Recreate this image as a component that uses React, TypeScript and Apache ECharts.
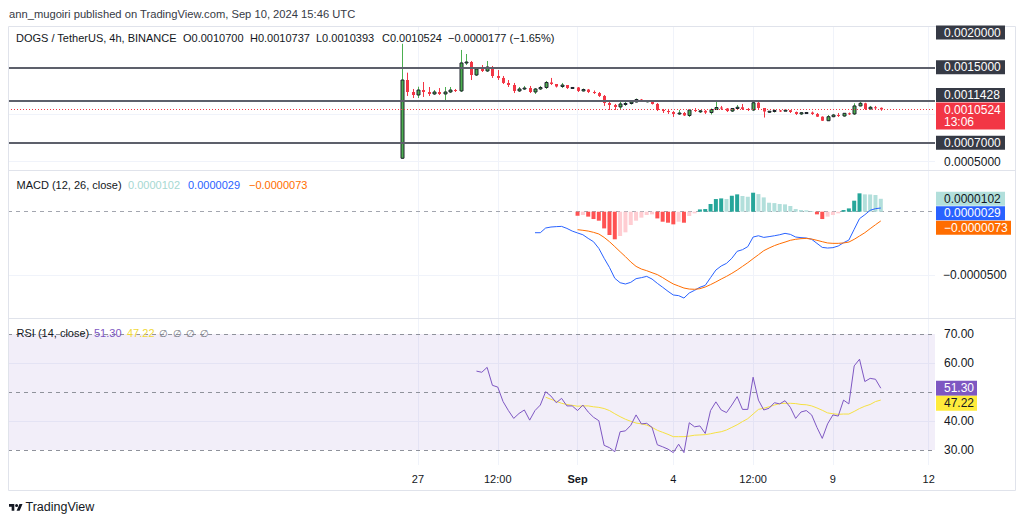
import React, { useEffect, useRef } from 'react';
import * as echarts from 'echarts';

const FONT = '"Liberation Sans", Arial, Helvetica, sans-serif';

// ---- price candles: [open, close, low, high], one per 4h bar starting Aug 26 12:00 ----
const candles: number[][] = [
  [0.000535, 0.001365, 0.000530, 0.001750],
  [0.001365, 0.001238, 0.001196, 0.001443],
  [0.001238, 0.001206, 0.001174, 0.001270],
  [0.001206, 0.001259, 0.001174, 0.001294],
  [0.001259, 0.001238, 0.001185, 0.001344],
  [0.001238, 0.001217, 0.001196, 0.001291],
  [0.001217, 0.001238, 0.001206, 0.001259],
  [0.001238, 0.001217, 0.001206, 0.001280],
  [0.001217, 0.001238, 0.001153, 0.001291],
  [0.001238, 0.001259, 0.001227, 0.001291],
  [0.001259, 0.001249, 0.001238, 0.001270],
  [0.001249, 0.001546, 0.001238, 0.001684],
  [0.001546, 0.001556, 0.001524, 0.001641],
  [0.001556, 0.001418, 0.001365, 0.001567],
  [0.001418, 0.001482, 0.001408, 0.001503],
  [0.001482, 0.001461, 0.001450, 0.001524],
  [0.001461, 0.001503, 0.001450, 0.001567],
  [0.001503, 0.001408, 0.001387, 0.001514],
  [0.001408, 0.001387, 0.001365, 0.001471],
  [0.001387, 0.001334, 0.001323, 0.001408],
  [0.001334, 0.001312, 0.001291, 0.001365],
  [0.001312, 0.001249, 0.001227, 0.001334],
  [0.001249, 0.001270, 0.001238, 0.001291],
  [0.001270, 0.001280, 0.001259, 0.001302],
  [0.001280, 0.001238, 0.001227, 0.001302],
  [0.001238, 0.001270, 0.001217, 0.001280],
  [0.001270, 0.001286, 0.001259, 0.001302],
  [0.001286, 0.001339, 0.001270, 0.001355],
  [0.001339, 0.001323, 0.001312, 0.001387],
  [0.001323, 0.001296, 0.001286, 0.001323],
  [0.001296, 0.001312, 0.001280, 0.001334],
  [0.001312, 0.001280, 0.001270, 0.001312],
  [0.001280, 0.001286, 0.001275, 0.001291],
  [0.001286, 0.001249, 0.001238, 0.001291],
  [0.001249, 0.001264, 0.001243, 0.001275],
  [0.001264, 0.001238, 0.001227, 0.001270],
  [0.001238, 0.001227, 0.001217, 0.001254],
  [0.001227, 0.001196, 0.001185, 0.001238],
  [0.001196, 0.001121, 0.001090, 0.001206],
  [0.001121, 0.001100, 0.001047, 0.001132],
  [0.001100, 0.001079, 0.001047, 0.001111],
  [0.001079, 0.001111, 0.001047, 0.001146],
  [0.001111, 0.001116, 0.001090, 0.001143],
  [0.001116, 0.001132, 0.001105, 0.001143],
  [0.001132, 0.001158, 0.001127, 0.001169],
  [0.001158, 0.001143, 0.001132, 0.001164],
  [0.001143, 0.001145, 0.001127, 0.001153],
  [0.001145, 0.001111, 0.001105, 0.001148],
  [0.001111, 0.001047, 0.001036, 0.001121],
  [0.001047, 0.001036, 0.001015, 0.001058],
  [0.001036, 0.001026, 0.001005, 0.001058],
  [0.001026, 0.001005, 0.000973, 0.001036],
  [0.001005, 0.001015, 0.000994, 0.001047],
  [0.001015, 0.000989, 0.000983, 0.001026],
  [0.000989, 0.001047, 0.000973, 0.001052],
  [0.001047, 0.001036, 0.001026, 0.001068],
  [0.001036, 0.001038, 0.001015, 0.001047],
  [0.001038, 0.001020, 0.001005, 0.001047],
  [0.001020, 0.001052, 0.000999, 0.001063],
  [0.001052, 0.001073, 0.001047, 0.001148],
  [0.001073, 0.001063, 0.001047, 0.001090],
  [0.001063, 0.001036, 0.001026, 0.001068],
  [0.001036, 0.001063, 0.001026, 0.001068],
  [0.001063, 0.001076, 0.001052, 0.001100],
  [0.001076, 0.001058, 0.001047, 0.001111],
  [0.001058, 0.001047, 0.001036, 0.001068],
  [0.001047, 0.001124, 0.001036, 0.001132],
  [0.001124, 0.001068, 0.001052, 0.001137],
  [0.001068, 0.001031, 0.000967, 0.001068],
  [0.001031, 0.001034, 0.001015, 0.001036],
  [0.001034, 0.001042, 0.001020, 0.001052],
  [0.001042, 0.001040, 0.001026, 0.001047],
  [0.001040, 0.001045, 0.001036, 0.001052],
  [0.001045, 0.001026, 0.001015, 0.001047],
  [0.001026, 0.001005, 0.000994, 0.001031],
  [0.001005, 0.001018, 0.000994, 0.001026],
  [0.001018, 0.001020, 0.001010, 0.001026],
  [0.001020, 0.001005, 0.000994, 0.001031],
  [0.001005, 0.000976, 0.000973, 0.001015],
  [0.000976, 0.000933, 0.000930, 0.000980],
  [0.000933, 0.000976, 0.000930, 0.000994],
  [0.000976, 0.000994, 0.000970, 0.001005],
  [0.000994, 0.000983, 0.000973, 0.001015],
  [0.000983, 0.001012, 0.000976, 0.001015],
  [0.001012, 0.001005, 0.000994, 0.001020],
  [0.001005, 0.001090, 0.000994, 0.001118],
  [0.001090, 0.001118, 0.001085, 0.001132],
  [0.001118, 0.001058, 0.001047, 0.001124],
  [0.001058, 0.001076, 0.001052, 0.001090],
  [0.001076, 0.001070, 0.001058, 0.001090],
  [0.0010700, 0.0010524, 0.0010393, 0.0010737],
];

// ---- MACD (12, 26, close) ----
const macdStart = 25;
const macdLine = [
  -0.0000166, -0.0000166, -0.0000129, -0.0000121, -0.0000118,
  -0.0000116, -0.0000132, -0.0000153, -0.0000168, -0.0000182,
  -0.0000211, -0.0000237, -0.0000290, -0.0000368, -0.0000440,
  -0.0000526, -0.0000561, -0.0000571, -0.0000558, -0.0000529,
  -0.0000521, -0.0000511, -0.0000532, -0.0000566, -0.0000597,
  -0.0000629, -0.0000658, -0.0000663, -0.0000682, -0.0000642,
  -0.0000621, -0.0000597, -0.0000582, -0.0000521, -0.0000461,
  -0.0000429, -0.0000408, -0.0000368, -0.0000313, -0.0000300,
  -0.0000276, -0.0000200, -0.0000190, -0.0000203, -0.0000197,
  -0.0000190, -0.0000182, -0.0000171, -0.0000179, -0.0000200,
  -0.0000205, -0.0000208, -0.0000218, -0.0000250, -0.0000282,
  -0.0000287, -0.0000284, -0.0000271, -0.0000245, -0.0000224,
  -0.0000139, -0.0000055, -0.0000024, 0.0000011, 0.0000024,
  0.0000029,
];
const signalStart = 33;
const signalLine = [
  -0.0000142, -0.0000147, -0.0000153, -0.0000163, -0.0000176,
  -0.0000203, -0.0000237, -0.0000276, -0.0000316, -0.0000355,
  -0.0000397, -0.0000432, -0.0000453, -0.0000466, -0.0000482,
  -0.0000497, -0.0000521, -0.0000547, -0.0000571, -0.0000587,
  -0.0000603, -0.0000611, -0.0000613, -0.0000608, -0.0000595,
  -0.0000576, -0.0000555, -0.0000532, -0.0000511, -0.0000487,
  -0.0000461, -0.0000432, -0.0000403, -0.0000371, -0.0000340,
  -0.0000308, -0.0000287, -0.0000268, -0.0000253, -0.0000240,
  -0.0000226, -0.0000218, -0.0000213, -0.0000211, -0.0000216,
  -0.0000226, -0.0000237, -0.0000247, -0.0000250, -0.0000250,
  -0.0000247, -0.0000240, -0.0000218, -0.0000192, -0.0000166,
  -0.0000134, -0.0000103, -0.0000073,
];
const histStart = 33;
const histogram = [
  -0.0000032, -0.0000026, -0.0000039, -0.0000058, -0.0000071,
  -0.0000132, -0.0000184, -0.0000218, -0.0000192, -0.0000163,
  -0.0000105, -0.0000071, -0.0000047, -0.0000026, -0.0000021,
  -0.0000053, -0.0000079, -0.0000087, -0.0000100, -0.0000079,
  -0.0000087, -0.0000034, -0.0000013, 0.0000018, 0.0000021,
  0.0000061, 0.0000100, 0.0000105, 0.0000100, 0.0000126,
  0.0000137, 0.0000124, 0.0000118, 0.0000150, 0.0000139,
  0.0000113, 0.0000071, 0.0000068, 0.0000061, 0.0000058,
  0.0000045, 0.0000021, 0.0000013, 0.0000011, 0.0000005,
  -0.0000021, -0.0000058, -0.0000039, -0.0000026, -0.0000013,
  0.0000013, 0.0000026, 0.0000087, 0.0000145, 0.0000137,
  0.0000136, 0.0000132, 0.0000102,
];

// ---- RSI (14, close) and its moving average ----
const rsiStart = 14;
const rsiValues = [
  57.2, 56.8, 58.5, 52.3, 51.7,
  46.7, 43.6, 40.9, 42.6, 43.8,
  40.3, 43.6, 45.5, 50.1, 48.6,
  46.3, 47.8, 45.2, 45.2, 43.6,
  45.5, 43.1, 41.3, 40.1, 31.6,
  30.8, 29.4, 36.3, 36.6, 38.5,
  42.1, 39.0, 39.2, 37.8, 31.8,
  31.1, 30.3, 29.1, 32.0, 29.1,
  39.4, 38.0, 38.3, 35.7, 43.6,
  46.6, 43.8, 42.9, 45.5, 48.4,
  44.0, 44.0, 55.1, 47.2, 43.8,
  44.4, 46.3, 45.9, 47.0, 44.7,
  40.9, 43.1, 43.6, 42.1, 37.8,
  34.0, 39.0, 42.1, 41.7, 47.2,
  45.9, 59.0, 61.3, 53.6, 54.7,
  54.4, 51.3,
];
const rsiMaStart = 27;
const rsiMaValues = [
  48.2, 47.5, 46.8, 46.1, 45.7,
  45.4, 45.1, 45.2, 45.2, 44.9,
  44.7, 44.3, 43.6, 42.5, 41.5,
  40.6, 39.9, 39.3, 39.0, 38.6,
  37.8, 36.8, 36.1, 35.4, 34.6,
  34.6, 34.6, 34.8, 35.1, 35.2,
  35.3, 35.6, 36.0, 36.3, 36.9,
  37.8, 38.7, 39.8, 40.8, 42.4,
  44.0, 44.4, 44.9, 45.5, 46.0,
  46.1, 46.1, 46.0, 45.7, 45.6,
  45.2, 44.5, 43.7, 42.8, 42.5,
  42.3, 42.4, 42.4, 43.3, 44.3,
  45.1, 45.7, 46.7, 47.22,
];

// ---- time axis ticks (bar index -> label) ----
const timeTicks = [
  { i: 3, label: '27', bold: false },
  { i: 18, label: '12:00', bold: false },
  { i: 33, label: 'Sep', bold: true },
  { i: 51, label: '4', bold: false },
  { i: 66, label: '12:00', bold: false },
  { i: 81, label: '9', bold: false },
  { i: 99, label: '12', bold: false },
];

const drawnLevels = [0.0015, 0.0011428, 0.0007];
const priceGridLevels = [0.0005, 0.001];
const lastClose = 0.0010524;
const macdGridLevels = [-0.00005];
const rsiLower = 30, rsiMiddle = 50, rsiUpper = 70;
const rsiGridLevels = [40, 60];

const priceTickLabels = [{ v: 0.0005, t: '0.0005000' }];
const macdTickLabels = [{ v: -0.00005, t: '\u22120.0000500' }];
const rsiTickLabels = [
  { v: 70, t: '70.00' }, { v: 60, t: '60.00' }, { v: 40, t: '40.00' }, { v: 30, t: '30.00' },
];

// visible bar-index window
const X_MIN = -74.06;
const X_MAX = 100.19;

const at = (start: number, arr: number[]) => arr.map((v, k) => [start + k, v]);

function buildOption(): any {
  const axisX = (g: number) => ({ type: 'value', gridIndex: g, min: X_MIN, max: X_MAX, show: false });
  const vlines = (color: string) => timeTicks.map(t => ({ xAxis: t.i, lineStyle: { color, width: 1, type: 'solid' } }));
  const hline = (v: number, color: string, width = 1, type: any = 'solid') => ({ yAxis: v, lineStyle: { color, width, type } });
  const mark = (data: any[], z: number) => ({
    silent: true, symbol: ['none', 'none'], label: { show: false }, animation: false, precision: 12, z, data,
  });
  const closes = at(0, candles.map(c => c[1]));
  const hidden = { symbol: 'none', showSymbol: false, lineStyle: { opacity: 0 }, silent: true };

  const histData = histogram.map((v, k) => {
    const prev = k > 0 ? histogram[k - 1] : 0;
    const color = v >= 0 ? (v > prev ? '#26a69a' : '#b2dfdb') : (v < prev ? '#ff5252' : '#ffcdd2');
    return { value: [histStart + k, v], itemStyle: { color } };
  });

  return {
    animation: false,
    backgroundColor: '#ffffff',
    grid: [
      { left: 8, top: 26, width: 927, height: 144, outerBoundsMode: 'none' },
      { left: 8, top: 171, width: 927, height: 147, outerBoundsMode: 'none' },
      { left: 8, top: 319, width: 927, height: 146, outerBoundsMode: 'none' },
    ],
    xAxis: [axisX(0), axisX(1), axisX(2)],
    yAxis: [
      { type: 'value', gridIndex: 0, min: 0.0004104, max: 0.0019382, show: false },
      { type: 'value', gridIndex: 1, min: -0.00008397, max: 0.00003215, show: false },
      { type: 'value', gridIndex: 2, min: 24.83, max: 75.17, show: false },
    ],
    series: [
      {
        type: 'line', xAxisIndex: 0, yAxisIndex: 0, data: closes, ...hidden, z: 1,
        markLine: mark([...vlines('#f0f3fa'), ...priceGridLevels.map(v => hline(v, '#f0f3fa'))], 1),
      },
      {
        type: 'custom', xAxisIndex: 0, yAxisIndex: 0, z: 3, clip: true, silent: true,
        data: candles.map((c, i) => [i, c[0], c[1], c[2], c[3]]),
        encode: { x: 0, y: [1, 2, 3, 4] },
        renderItem: (_p: any, api: any) => {
          const i = api.value(0);
          const o = api.value(1), c = api.value(2), l = api.value(3), h = api.value(4);
          const po = api.coord([i, o]);
          const x = Math.round(po[0]) + 0.5;
          const yo = po[1];
          const yc = api.coord([i, c])[1];
          const yl = api.coord([i, l])[1];
          const yh = api.coord([i, h])[1];
          const up = c >= o;
          const col = up ? '#4caf50' : '#f23645';
          const top = Math.min(yo, yc);
          const hgt = Math.max(Math.abs(yo - yc), 1);
          return {
            type: 'group',
            children: [
              { type: 'line', shape: { x1: x, y1: yh, x2: x, y2: yl }, style: { stroke: col, lineWidth: 1 } },
              up
                ? { type: 'rect', shape: { x: x - 1.5, y: top, width: 3, height: hgt }, style: { fill: col, stroke: '#1e222d', lineWidth: 1 } }
                : { type: 'rect', shape: { x: x - 1.5, y: top, width: 3, height: hgt }, style: { fill: col } },
            ],
          };
        },
      },
      {
        type: 'line', xAxisIndex: 0, yAxisIndex: 0, data: closes, ...hidden, z: 5,
        markLine: mark([
          ...drawnLevels.map(v => hline(v, '#5d606b', 2)),
          hline(lastClose, '#f23645', 1, [1, 2]),
        ], 6),
      },
      {
        type: 'line', xAxisIndex: 1, yAxisIndex: 1, data: at(macdStart, macdLine), ...hidden, z: 1,
        markLine: mark([
          ...vlines('#f0f3fa'),
          ...macdGridLevels.map(v => hline(v, '#f0f3fa')),
          hline(0, '#a3a6af', 1, [4, 4]),
        ], 1),
      },
      {
        type: 'bar', xAxisIndex: 1, yAxisIndex: 1, data: histData, barWidth: 4, z: 2, silent: true,
      },
      {
        type: 'line', xAxisIndex: 1, yAxisIndex: 1, data: at(macdStart, macdLine), symbol: 'none', showSymbol: false,
        lineStyle: { color: '#2962ff', width: 1 }, z: 4, silent: true,
      },
      {
        type: 'line', xAxisIndex: 1, yAxisIndex: 1, data: at(signalStart, signalLine), symbol: 'none', showSymbol: false,
        lineStyle: { color: '#ff6d00', width: 1 }, z: 4, silent: true,
      },
      {
        type: 'line', xAxisIndex: 2, yAxisIndex: 2, data: at(rsiStart, rsiValues), ...hidden, z: 1,
        markLine: mark([...vlines('#f0f3fa'), ...rsiGridLevels.map(v => hline(v, '#f0f3fa'))], 1),
      },
      {
        type: 'line', xAxisIndex: 2, yAxisIndex: 2, data: at(rsiStart, rsiValues), ...hidden, z: 2,
        markArea: {
          silent: true, z: 2, itemStyle: { color: 'rgba(126, 87, 194, 0.1)' },
          data: [[{ yAxis: rsiLower }, { yAxis: rsiUpper }]],
        },
        markLine: mark([
          hline(rsiUpper, '#8f929b', 1, [4, 4]),
          hline(rsiMiddle, '#8f929b', 1, [4, 4]),
          hline(rsiLower, '#8f929b', 1, [4, 4]),
        ], 3),
      },
      {
        type: 'line', xAxisIndex: 2, yAxisIndex: 2, data: at(rsiMaStart, rsiMaValues), symbol: 'none', showSymbol: false,
        lineStyle: { color: '#f5e042', width: 1 }, z: 4, silent: true,
      },
      {
        type: 'line', xAxisIndex: 2, yAxisIndex: 2, data: at(rsiStart, rsiValues), symbol: 'none', showSymbol: false,
        lineStyle: { color: '#7e57c2', width: 1 }, z: 4, silent: true,
      },
    ],
  };
}

function buildGraphics(gX: (a: number, v: number) => number, gY: (a: number, v: number) => number) {
  const els: any[] = [];
  const T = (x: number, y: number, text: string, color = '#131722', size = 11, extra: any = {}) =>
    els.push({
      type: 'text', x, y, z: 100, silent: true,
      style: {
        text, fill: color, fontSize: size, fontFamily: FONT,
        verticalAlign: 'middle', textVerticalAlign: 'middle', ...extra,
      },
    });
  const R = (x: number, y: number, w: number, h: number, fill: string) =>
    els.push({ type: 'rect', z: 99, silent: true, shape: { x, y, width: w, height: h }, style: { fill } });
  const L = (x1: number, y1: number, x2: number, y2: number, stroke: string) =>
    els.push({ type: 'line', z: 50, silent: true, shape: { x1, y1, x2, y2 }, style: { stroke, lineWidth: 1 } });

  // frame & pane separators
  els.push({
    type: 'rect', z: 50, silent: true, shape: { x: 8.5, y: 26.5, width: 1007, height: 464 },
    style: { fill: 'none', stroke: '#e0e3eb', lineWidth: 1 },
  });
  L(8, 170.5, 1016, 170.5, '#e0e3eb');
  L(8, 318.5, 1016, 318.5, '#e0e3eb');

  // header
  T(9, 14, 'ann_mugoiri published on TradingView.com, Sep 10, 2024 15:46 UTC', '#363a45', 11.2);

  // price legend
  T(16, 38, 'DOGS / TetherUS, 4h, BINANCE');
  T(183, 38, 'O0.0010700');
  T(250, 38, 'H0.0010737');
  T(316, 38, 'L0.0010393');
  T(382, 38, 'C0.0010524');
  T(448, 38, '\u22120.0000177 (\u22121.65%)');

  // MACD legend
  T(16.5, 185, 'MACD (12, 26, close)');
  T(128, 185, '0.0000102', '#a6d8d2');
  T(188, 185, '0.0000029', '#2962ff');
  T(249, 185, '\u22120.0000073', '#ff6d00');

  // RSI legend
  T(16.5, 333, 'RSI (14, close)');
  T(94, 333, '51.30', '#7e57c2');
  T(127, 333, '47.22', '#f0d93a');
  [163, 177, 190, 204].forEach(x => T(x, 333, '\u2205', '#787b86', 10, { align: 'center', textAlign: 'center' }));

  // price scale
  const ax = 944;
  priceTickLabels.forEach(p => T(ax, gY(0, p.v), p.t, '#131722', 12));
  const yClose = gY(0, lastClose);
  const redTop = yClose - 7;
  const darkBadge = (y: number, text: string) => { R(936, y - 7, 69, 14, '#363a45'); T(ax, y, text, '#ffffff', 12); };
  darkBadge(Math.max(gY(0, 0.002), 26 + 6.5), '0.0020000');
  darkBadge(gY(0, 0.0015), '0.0015000');
  darkBadge(Math.min(gY(0, 0.0011428), redTop - 7.5), '0.0011428');
  darkBadge(gY(0, 0.0007), '0.0007000');
  R(936, redTop, 69, 27, '#f23645');
  T(ax, redTop + 7.5, '0.0010524', '#ffffff', 12);
  T(ax, redTop + 19.5, '13:06', '#ffffff', 12);

  // MACD scale
  macdTickLabels.forEach(p => T(943, gY(1, p.v), p.t, '#131722', 12));
  const mb = [
    { v: histogram[histogram.length - 1], t: '0.0000102', bg: '#b2dfdb', c: '#131722', w: 69 },
    { v: macdLine[macdLine.length - 1], t: '0.0000029', bg: '#2962ff', c: '#ffffff', w: 69 },
    { v: signalLine[signalLine.length - 1], t: '\u22120.0000073', bg: '#ff6d00', c: '#ffffff', w: 75 },
  ];
  let prevY = -1e9;
  mb.forEach(b => {
    const y = Math.max(gY(1, b.v), prevY + 14.5);
    prevY = y;
    R(936, y - 7, b.w, 14, b.bg);
    T(ax, y, b.t, b.c, 12);
  });

  // RSI scale
  rsiTickLabels.forEach(p => T(ax, gY(2, p.v), p.t, '#131722', 12));
  const rb = [
    { v: rsiValues[rsiValues.length - 1], t: '51.30', bg: '#7e57c2', c: '#ffffff' },
    { v: rsiMaValues[rsiMaValues.length - 1], t: '47.22', bg: '#ffeb3b', c: '#131722' },
  ];
  prevY = -1e9;
  rb.forEach(b => {
    const y = Math.max(gY(2, b.v), prevY + 15);
    prevY = y;
    R(936, y - 7.5, 41, 15, b.bg);
    T(ax, y, b.t, b.c, 12);
  });

  // time axis
  timeTicks.forEach(t => {
    T(gX(2, t.i), 479, t.label, '#131722', 11, {
      align: 'center', textAlign: 'center', fontWeight: t.bold ? 'bold' : 'normal',
    });
  });

  // TradingView logo
  els.push({ type: 'tvlogo', x: 9, y: 502.5, scaleX: 0.38, scaleY: 0.38, z: 100, silent: true, style: { fill: '#131722' } });
  T(25.5, 507, 'TradingView', '#131722', 12.5);

  return els;
}

let logoRegistered = false;

export default function App() {
  const ref = useRef<HTMLDivElement>(null);
  useEffect(() => {
    if (!ref.current) return;
    if (!logoRegistered) {
      try {
        echarts.graphic.registerShape(
          'tvlogo',
          echarts.graphic.extendPath('M14 22H7V11H0V4h14v18zM28 22h-8l7.5-18h8L28 22zM24 8a4 4 0 1 1-8 0a4 4 0 1 1 8 0z', {}) as any
        );
      } catch (e) { /* ignore */ }
      logoRegistered = true;
    }
    const chart = echarts.init(ref.current, null, { renderer: 'svg' });
    chart.setOption(buildOption());
    const gY = (a: number, v: number) => chart.convertToPixel({ yAxisIndex: a } as any, v) as unknown as number;
    const gX = (a: number, v: number) => chart.convertToPixel({ xAxisIndex: a } as any, v) as unknown as number;
    chart.setOption({ graphic: { elements: buildGraphics(gX, gY) } });
    return () => chart.dispose();
  }, []);
  return (
    <div
      ref={ref}
      style={{ position: 'fixed', left: 0, top: 0, width: 1024, height: 522, background: '#ffffff' }}
    />
  );
}
